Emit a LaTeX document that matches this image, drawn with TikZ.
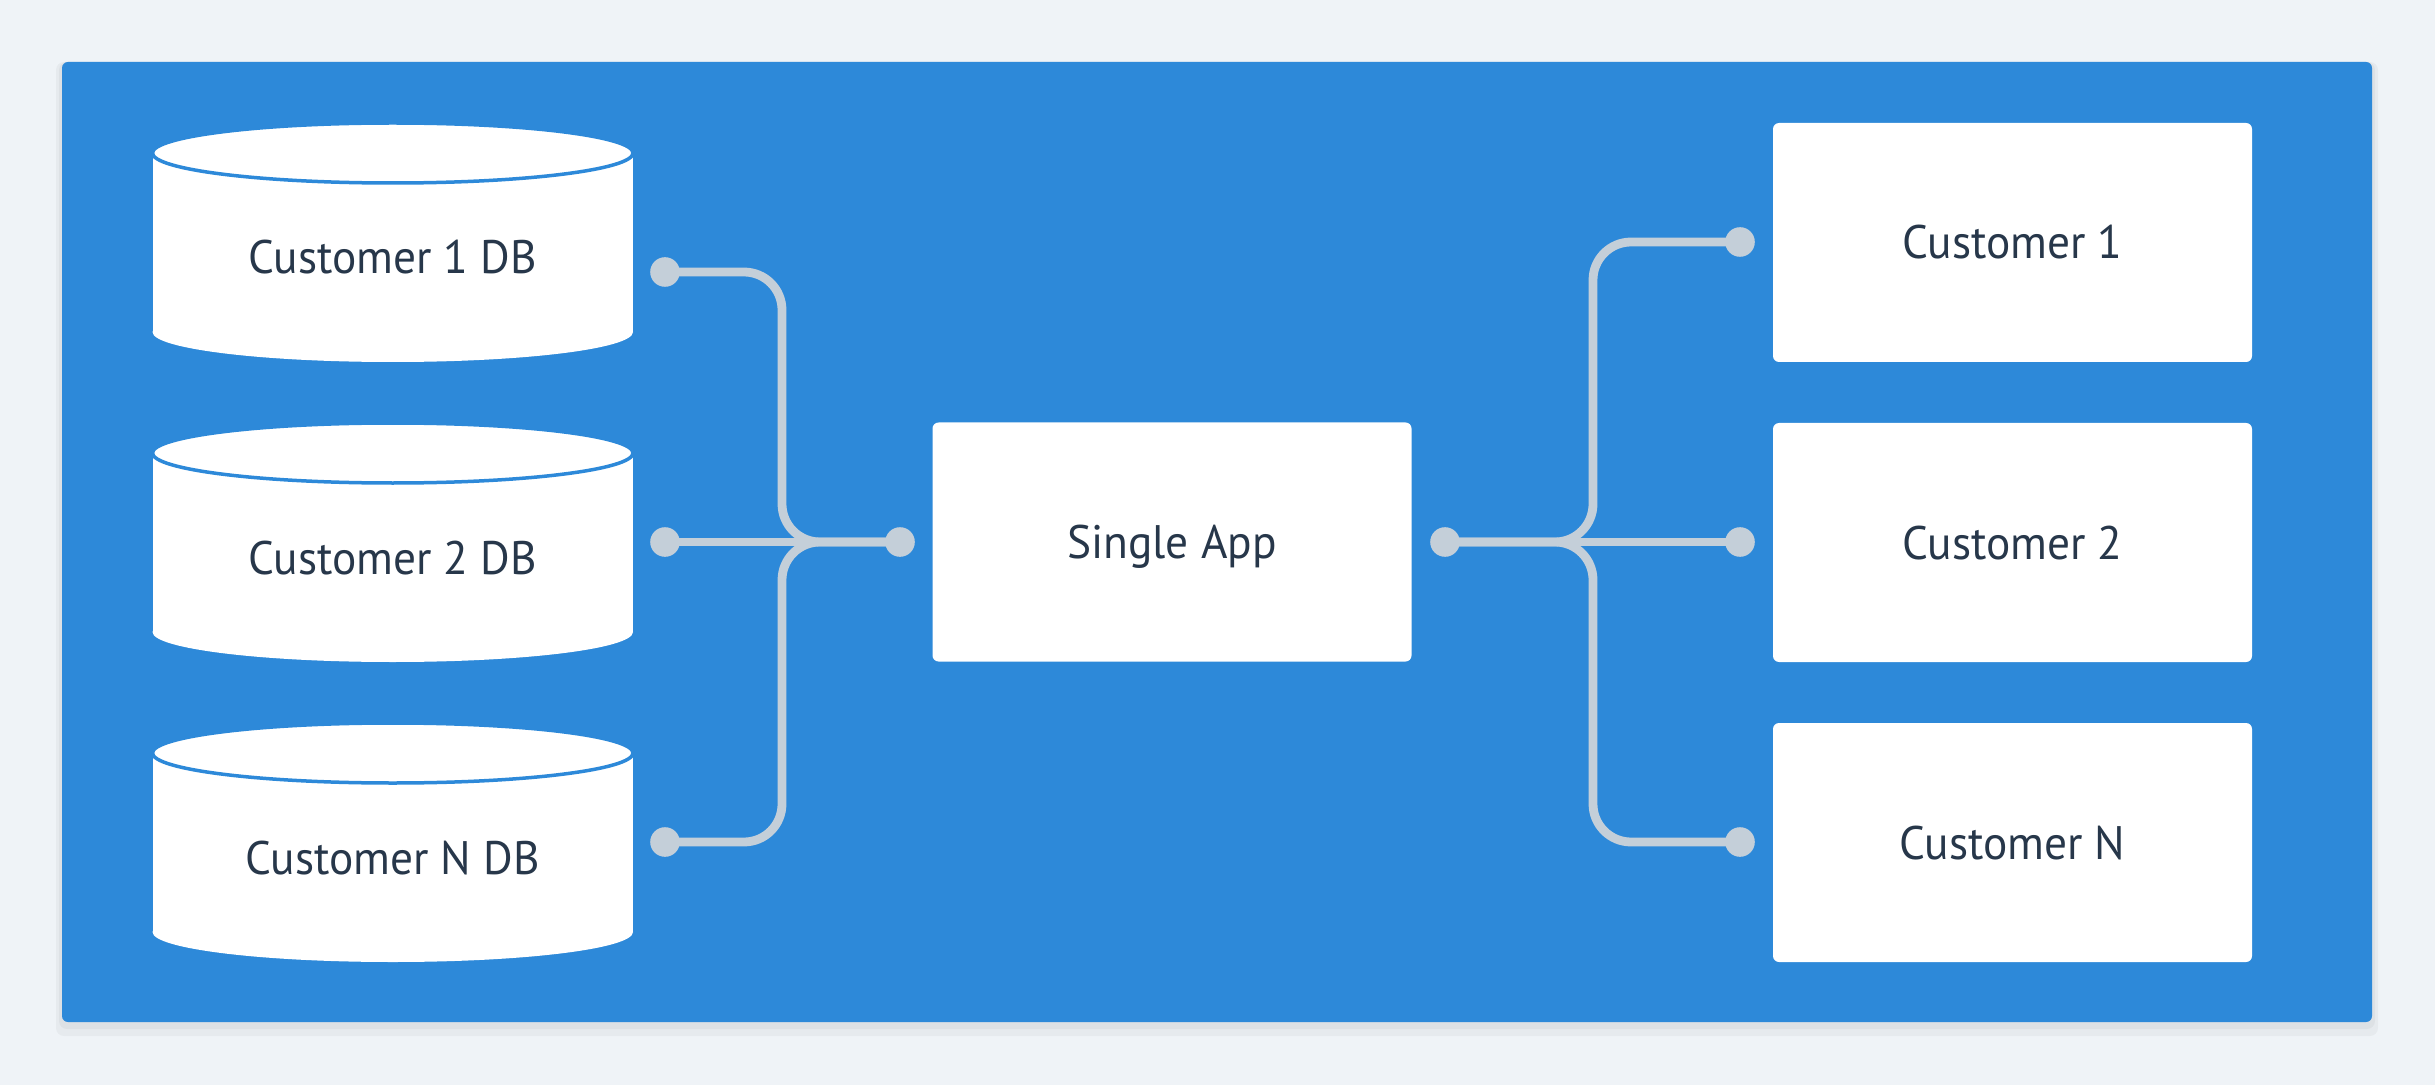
\documentclass[tikz,border=0pt]{standalone}
\usepackage{fontspec}
\setmainfont{PT Sans}[FakeStretch=0.965]
\definecolor{bgc}{HTML}{EFF3F7}
\definecolor{panelc}{HTML}{2D89D9}
\definecolor{connc}{HTML}{C4CFD9}
\definecolor{textc}{HTML}{27374A}
\tikzset{
  lbl/.style={text=textc, font=\fontsize{23.5pt}{28pt}\selectfont, text height=16.5pt, text depth=0pt, inner sep=0pt},
  whitebox/.style={fill=white, rounded corners=3pt, minimum width=239.5pt, minimum height=119.5pt, inner sep=0pt, text=textc, font=\fontsize{23.5pt}{28pt}\selectfont, text height=16.5pt, text depth=0pt},
  dotnode/.style={circle, minimum size=15pt, inner sep=0pt},
  conn/.style={draw=connc, line width=4.4pt, rounded corners=19pt},
  bshadow/.style={fill=black, opacity=0.035, rounded corners=4pt},
}
\begin{document}
\begin{tikzpicture}[x=0.5pt,y=-0.5pt]
\useasboundingbox (0,0) rectangle (2435,1085);
\fill[bgc] (0,0) rectangle (2435,1085);
% panel shadow
\fill[bshadow] (56,62) rectangle (2378,1036);
\fill[bshadow] (59,62) rectangle (2375,1029);
\fill[panelc, rounded corners=3pt] (62,62) rectangle (2372,1022);

% cylinders
\foreach \dy/\nm/\txt in {0/db1/Customer 1 DB, 300/db2/Customer 2 DB, 600/dbn/Customer N DB}{
  \fill[white] (152.5,153+\dy) rectangle (633,332+\dy);
  \fill[white] (392.75,332+\dy) ellipse [x radius=240.25, y radius=30];
  \filldraw[fill=white, draw=panelc, line width=1.75pt] (392.75,153+\dy) ellipse [x radius=240.25, y radius=30];
  \node[lbl] (\nm) at (392.75,257.5+\dy) {\txt};
}

% single app and customers
\node[whitebox] (app) at (1172,542) {Single App};
\node[whitebox] (c1) at (2012.5,242.5) {Customer 1};
\node[whitebox] (c2) at (2012.5,542.5) {Customer 2};
\node[whitebox] (cn) at (2012.5,842.5) {Customer N};

% junction coordinates
\coordinate (jl) at (782,542);
\coordinate (jr) at (1593,542);

% dots
\node[dotnode] (l1) at (665,272) {};
\node[dotnode] (l2) at (665,542) {};
\node[dotnode] (l3) at (665,842) {};
\node[dotnode] (ain) at (900,542) {};
\node[dotnode] (aout) at (1445,542) {};
\node[dotnode] (r1) at (1740,242) {};
\node[dotnode] (r2) at (1740,542) {};
\node[dotnode] (r3) at (1740,842) {};

% connectors
\draw[conn] (l1.center) -| (jl) -- (ain.center);
\draw[conn] (l3.center) -| (jl) -- (ain.center);
\draw[conn] (l2.center) -- (ain.center);
\draw[conn] (aout.center) -- (jr) |- (r1.center);
\draw[conn] (aout.center) -- (jr) |- (r3.center);
\draw[conn] (aout.center) -- (r2.center);

% dots on top
\foreach \d in {l1,l2,l3,ain,aout,r1,r2,r3}{
  \fill[connc] (\d.center) circle [radius=7.4pt];
}
\end{tikzpicture}
\end{document}
